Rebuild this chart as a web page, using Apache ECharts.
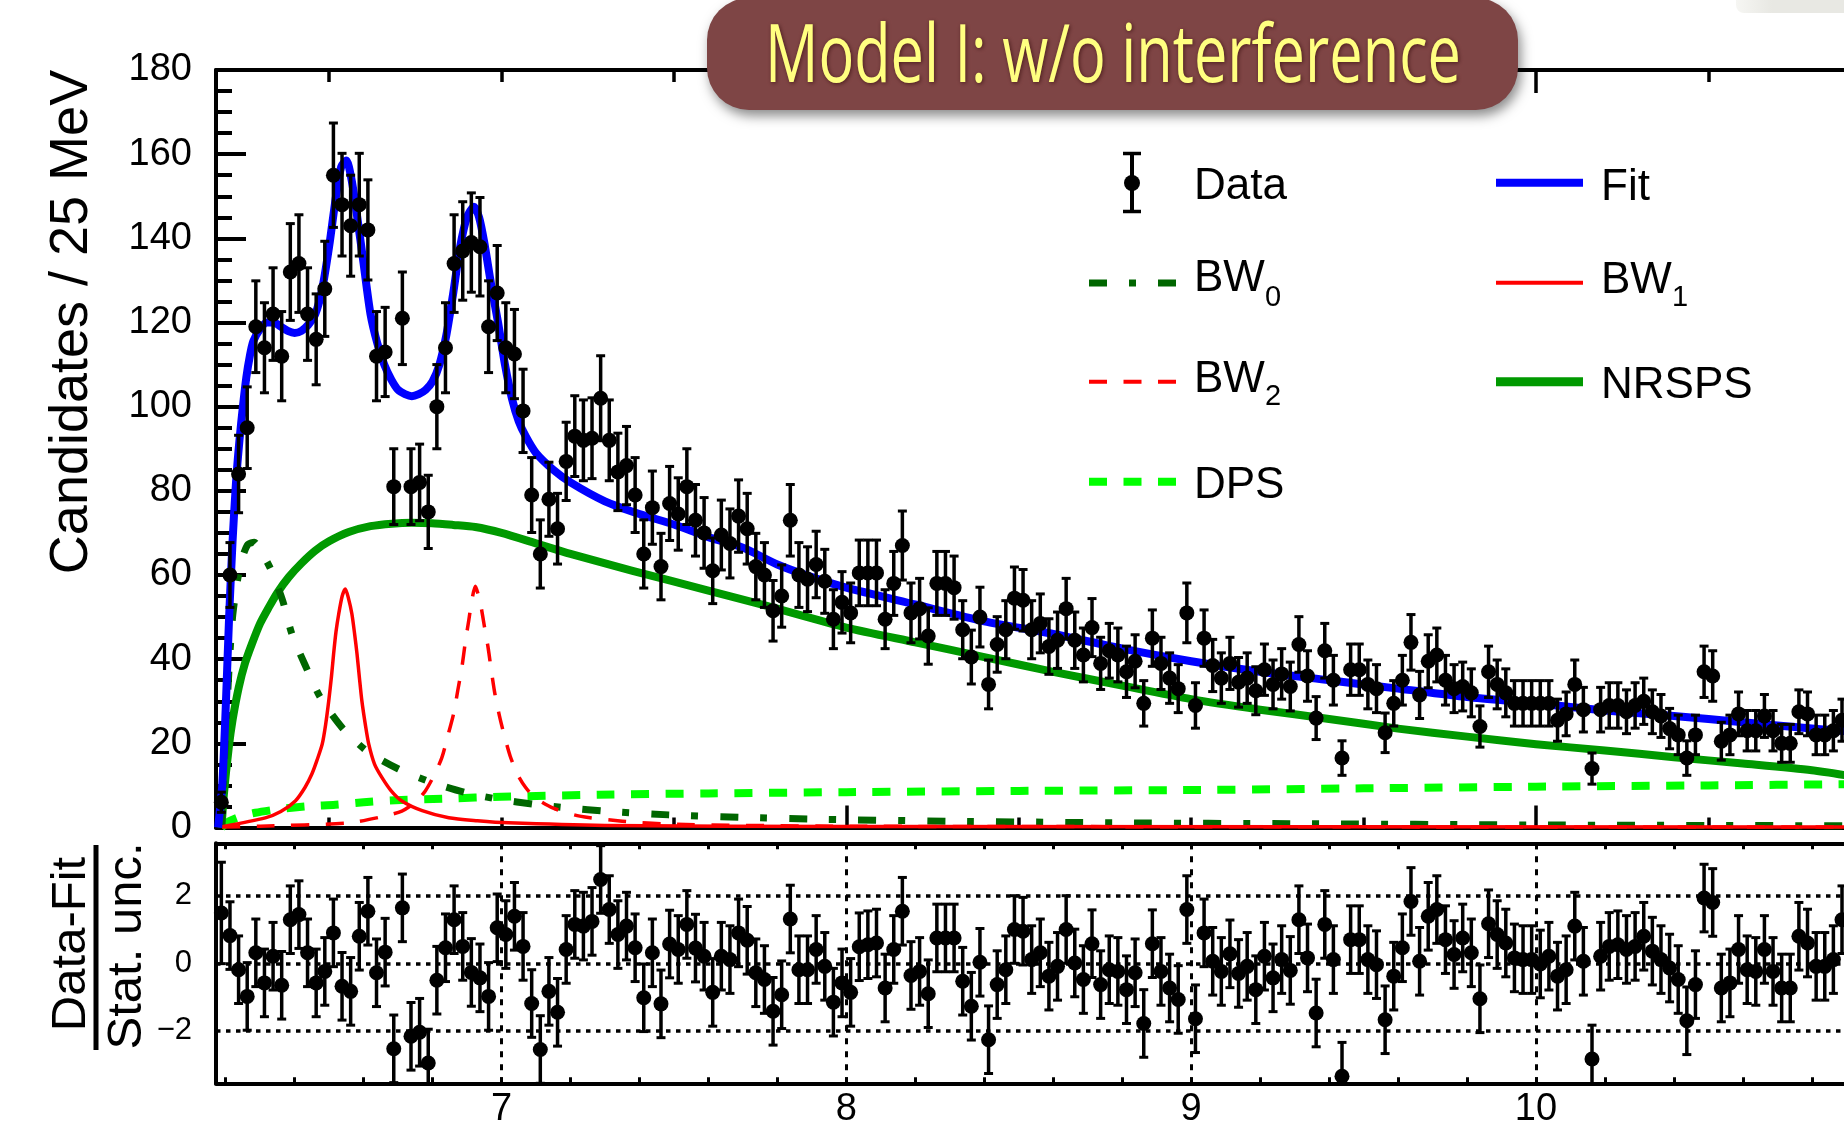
<!DOCTYPE html>
<html>
<head>
<meta charset="utf-8">
<title>Model I: w/o interference</title>
<script src="https://cdn.jsdelivr.net/npm/echarts@6.0.0/dist/echarts.min.js"></script>
<style>
html, body { margin: 0; padding: 0; background: #ffffff; }
#chart { width: 1844px; height: 1125px; }
</style>
</head>
<body>
<div id="chart"></div>
<script>
// ---------------- binning (25 MeV bins) ----------------
const binStart = 6.1875;
const binWidth = 0.025;

// ---------------- data: candidates per bin ----------------
const counts = [
 6,60,84,95,119,114,122,112,132,134,
 122,116,128,155,148,143,148,142,112,113,
 81,121,81,82,75,100,114,134,137,139,
 138,119,127,114,112.5,99,79,65,78,71,
 87,93,92,92.5,102,92,84.5,86,79,65,
 76,62,77,74.5,81,73,70,61,69.5,67.5,
 74,71,62,60,51.5,55,73,60,59,62.5,
 58.5,49.5,53.5,51,60.5,60.5,60.5,49.5,58,67,
 51,52,45.5,58,58,57,47,40.5,50,34,
 43.5,47,54.5,54,47,48.5,43,44.5,52,44.5,
 41,47.5,39,42,41,37,39.5,29.5,45,39,
 35.5,33,51,29,45,38.5,35.5,39,34.5,35.5,
 32.5,37.5,34,36.5,33.5,43.5,36,26,42,35,
 16.5,37.5,37.5,34,33,22.5,29.5,35,44,31.5,
 39.5,41,35,33,33.5,32,24,37,34,32,
 29.5,29.5,29.5,29.5,29.5,25.5,27,34,28,14,
 28,29,29,27.5,29,30,27.5,26.5,23.5,22,
 16.5,22,37,36,20.5,22,27,23,23,26.5,
 23,20,20,27.5,27,22,22,23,25.5
];
const countErrors = [
 2.4,7.7,9.2,9.7,10.9,10.7,11.0,10.6,11.5,11.6,
 11.0,10.8,11.3,12.4,12.2,12.0,12.2,11.9,10.6,10.6,
 9.0,11.0,9.0,9.1,8.7,10.0,10.7,11.6,11.7,11.8,
 11.7,10.9,11.3,10.7,10.6,9.9,8.9,8.1,8.8,8.4,
 9.3,9.6,9.6,9.6,10.1,9.6,9.2,9.3,8.9,8.1,
 8.7,7.9,8.8,8.6,9.0,8.5,8.4,7.8,8.3,8.2,
 8.6,8.4,7.9,7.7,7.2,7.4,8.5,7.7,7.7,7.9,
 7.6,7.0,7.3,7.1,7.8,7.8,7.8,7.0,7.6,8.2,
 7.1,7.2,6.7,7.6,7.6,7.5,6.9,6.4,7.1,5.8,
 6.6,6.9,7.4,7.3,6.9,7.0,6.6,6.7,7.2,6.7,
 6.4,6.9,6.2,6.5,6.4,6.1,6.3,5.4,6.7,6.2,
 6.0,5.7,7.1,5.4,6.7,6.2,6.0,6.2,5.9,6.0,
 5.7,6.1,5.8,6.0,5.8,6.6,6.0,5.1,6.5,5.9,
 4.1,6.1,6.1,5.8,5.7,4.7,5.4,5.9,6.6,5.6,
 6.3,6.4,5.9,5.7,5.8,5.7,4.9,6.1,5.8,5.7,
 5.4,5.4,5.4,5.4,5.4,5.0,5.2,5.8,5.3,3.7,
 5.3,5.4,5.4,5.2,5.4,5.5,5.2,5.1,4.8,4.7,
 4.1,4.7,6.1,6.0,4.5,4.7,5.2,4.8,4.8,5.1,
 4.8,4.5,4.5,5.2,5.2,4.7,4.7,4.8,5.0
];

// ---------------- pulls: (Data-Fit)/Stat. unc. ----------------
const pulls = [
 1.49,0.82,-0.19,-0.98,0.31,-0.58,0.21,-0.65,1.29,1.44,
 0.31,-0.58,-0.24,0.9,-0.68,-0.83,0.8,1.54,-0.28,0.33,
 -2.53,1.64,-2.16,-2.04,-2.95,-0.5,0.46,1.29,0.5,-0.27,
 -0.43,-0.98,1.05,0.85,1.39,0.5,-1.19,-2.55,-0.83,-1.45,
 0.41,1.15,1.1,1.24,2.48,1.59,0.85,1.1,0.46,-1.02,
 0.31,-1.2,0.57,0.41,1.15,0.45,0.21,-0.86,0.21,0.11,
 0.9,0.68,-0.28,-0.48,-1.42,-0.93,1.31,-0.19,-0.19,0.41,
 -0.09,-1.15,-0.58,-0.86,0.49,0.55,0.6,-0.73,0.41,1.54,
 -0.36,-0.24,-0.9,0.75,0.75,0.75,-0.53,-1.27,0.03,-2.26,
 -0.63,-0.19,1.0,0.95,0.11,0.31,-0.38,-0.09,1.0,0.01,
 -0.48,0.58,-0.63,-0.19,-0.24,-0.78,-0.28,-1.78,0.58,-0.24,
 -0.73,-1.07,1.59,-1.64,0.9,0.06,-0.24,0.28,-0.3,-0.09,
 -0.78,0.21,-0.43,0.11,-0.21,1.29,0.16,-1.47,1.15,0.11,
 -3.34,0.7,0.7,0.11,-0.04,-1.67,-0.38,0.46,1.83,0.06,
 1.39,1.59,0.7,0.26,0.75,0.31,-1.05,1.17,0.85,0.6,
 0.16,0.11,0.11,-0.02,0.21,-0.38,-0.19,1.1,0.06,-2.83,
 0.21,0.5,0.55,0.41,0.5,0.8,0.36,0.11,-0.14,-0.48,
 -1.7,-0.63,1.93,1.8,-0.73,-0.58,0.41,-0.19,-0.24,0.41,
 -0.24,-0.73,-0.73,0.8,0.6,-0.09,-0.09,0.11,1.29
];
const pullErrors = [
 1.5,1,1,1,1,1,1,1,1,1, 1,1,1,1,1,1,1,1,1,1, 1,1,1,1,1,1,1,1,1,1,
 1,1,1,1,1,1,1,1,1,1, 1,1,1,1,1,1,1,1,1,1, 1,1,1,1,1,1,1,1,1,1,
 1,1,1,1,1,1,1,1,1,1, 1,1,1,1,1,1,1,1,1,1, 1,1,1,1,1,1,1,1,1,1,
 1,1,1,1,1,1,1,1,1,1, 1,1,1,1,1,1,1,1,1,1, 1,1,1,1,1,1,1,1,1,1,
 1,1,1,1,1,1,1,1,1,1, 1,1,1,1,1,1,1,1,1,1, 1,1,1,1,1,1,1,1,1,1,
 1,1,1,1,1,1,1,1,1,1, 1,1,1,1,1,1,1,1,1,1, 1,1,1,1,1,1,1,1,1,1,
 1,1,1,1,1,1,1,1,1
];

// ---------------- fit components [mass (GeV), candidates] ----------------
const fitCurve = [[6.178,0],[6.19,10],[6.20,28],[6.21,50],[6.22,68],[6.23,82],[6.24,92],[6.25,100],[6.26,107],[6.27,112],[6.28,115.5],[6.30,118.5],[6.32,120],[6.34,120],[6.36,119],[6.38,118],[6.40,117.5],[6.42,118],[6.44,119.5],[6.46,122],[6.48,128],[6.50,138],[6.52,150],[6.535,157],[6.55,158.5],[6.565,154],[6.58,146],[6.60,134],[6.62,122],[6.64,115],[6.66,110],[6.68,106.5],[6.70,104],[6.72,103],[6.74,102.5],[6.76,103],[6.78,104],[6.80,106],[6.82,110],[6.84,117],[6.86,127],[6.88,138],[6.90,145],[6.92,147.5],[6.935,145],[6.95,139],[6.97,129],[6.99,120],[7.01,110],[7.03,102],[7.05,96.5],[7.07,93],[7.10,89],[7.15,85],[7.2,82],[7.3,77.5],[7.4,74.5],[7.5,72],[7.6,69],[7.7,66.5],[7.8,62.5],[7.9,59.5],[8.0,57],[8.2,53],[8.4,49],[8.6,46],[8.8,42.5],[9.0,39.5],[9.2,37],[9.4,35],[9.6,33],[9.8,31],[10.0,29.5],[10.2,27.8],[10.4,26.5],[10.6,25],[10.8,23.5],[10.93,22.7]];
const nrspsCurve = [[6.188,0],[6.195,8],[6.209,19],[6.22,25.5],[6.238,33.3],[6.256,39],[6.276,43.6],[6.30,48.5],[6.325,52.3],[6.35,55.8],[6.383,59.5],[6.42,62.8],[6.46,65.8],[6.50,68],[6.557,70.2],[6.62,71.6],[6.682,72.2],[6.74,72.4],[6.798,72.3],[6.86,71.9],[6.924,71.4],[7.0,70],[7.1,67.5],[7.2,65],[7.38,61],[7.6,56.3],[7.767,52.7],[8.0,47.5],[8.2,44],[8.4,40.5],[8.6,37],[8.8,33.7],[9.0,30.5],[9.2,28],[9.4,25.8],[9.6,23.5],[9.8,21.6],[10.0,19.8],[10.2,18.3],[10.4,16.7],[10.6,15.2],[10.8,13.6],[10.93,12]];
const dpsCurve = [[6.188,0],[6.21,1.5],[6.25,2.8],[6.286,3.5],[6.34,4.2],[6.392,4.7],[6.45,5.1],[6.518,5.4],[6.6,6.0],[6.692,6.5],[6.847,6.9],[7.0,7.3],[7.28,7.8],[7.6,8.1],[8.0,8.4],[8.5,8.7],[9.0,8.9],[9.5,9.3],[10.0,9.7],[10.5,10.0],[10.93,10.3]];
const bw0Curve = [[6.188,0],[6.20,22],[6.21,38],[6.22,50],[6.235,59],[6.25,64.5],[6.265,67.3],[6.283,67.8],[6.30,66],[6.33,61.5],[6.365,54],[6.392,46],[6.431,38.5],[6.474,31],[6.537,23.8],[6.609,18.2],[6.701,13.9],[6.798,10.7],[6.895,8.3],[6.992,6.7],[7.097,5.5],[7.2,4.6],[7.3,3.9],[7.485,3.0],[7.7,2.4],[7.93,1.95],[8.3,1.5],[8.8,1.1],[9.3,0.9],[10.0,0.6],[10.93,0.4]];
const bw1Curve = [[6.19,0.2],[6.315,2.3],[6.36,3.8],[6.402,6.3],[6.43,9.5],[6.45,12.7],[6.465,16],[6.48,19.8],[6.49,24.5],[6.499,30.1],[6.507,36],[6.513,41.2],[6.52,46.5],[6.528,50.8],[6.538,55],[6.547,56.7],[6.556,54.5],[6.566,50.8],[6.574,46],[6.581,41.2],[6.588,35.5],[6.595,30.1],[6.605,24.5],[6.615,19.8],[6.632,15],[6.653,11.9],[6.68,8.7],[6.711,6.3],[6.77,4],[6.847,2.3],[6.93,1.6],[7.02,1.1],[7.3,0.5],[8.0,0.25],[10.93,0.1]];
const bw2Curve = [[6.19,0.1],[6.3,0.3],[6.557,1.1],[6.65,2.5],[6.711,3.9],[6.75,6],[6.779,8.7],[6.805,12.5],[6.827,16.6],[6.845,22],[6.861,27],[6.873,32.5],[6.885,38],[6.895,44],[6.905,49.2],[6.914,54],[6.924,57.3],[6.932,55.5],[6.941,52.3],[6.951,47.5],[6.961,42.8],[6.971,37],[6.981,31.7],[6.994,26.5],[7.007,22.2],[7.025,17],[7.046,12.7],[7.07,9.5],[7.097,7.1],[7.15,4.6],[7.227,2.7],[7.35,1.5],[7.485,0.8],[8.0,0.3],[10.93,0.1]];

// ---------------- texts ----------------
const titleText = 'Model I: w/o interference';
const yTitleTop = 'Candidates / 25 MeV';
const yTitleNum = 'Data-Fit';
const yTitleDen = 'Stat. unc.';

// ---------------- layout constants ----------------
const FONT = '"Liberation Sans", Arial, Helvetica, sans-serif';
const X_MIN = 6.172, X_MAX = 10.931;
const G_LEFT = 216, G_W = 1641;
const TOP_T = 70, TOP_H = 757.5;
const BOT_T = 843.3, BOT_H = 240;

const binCenters = counts.map((_, i) => +(binStart + i * binWidth).toFixed(4));
const dataPts = counts.map((v, i) => [binCenters[i], v, countErrors[i]]);
const pullPts = pulls.map((v, i) => [binCenters[i], v, pullErrors[i]]);

function errRender(r, capHalf, lw) {
  return function (params, api) {
    const x = api.value(0), y = api.value(1), e = api.value(2);
    const c = api.coord([x, y]);
    const top = api.coord([x, y + e])[1];
    const bot = api.coord([x, y - e])[1];
    const cs = params.coordSys;
    const yTop = Math.max(top, cs.y), yBot = Math.min(bot, cs.y + cs.height);
    const st = { stroke: '#000', lineWidth: lw };
    const children = [];
    if (yBot > yTop) children.push({ type: 'line', shape: { x1: c[0], y1: yTop, x2: c[0], y2: yBot }, style: st });
    if (top >= cs.y) children.push({ type: 'line', shape: { x1: c[0] - capHalf, y1: top, x2: c[0] + capHalf, y2: top }, style: { stroke: '#000', lineWidth: 3 } });
    if (bot <= cs.y + cs.height) children.push({ type: 'line', shape: { x1: c[0] - capHalf, y1: bot, x2: c[0] + capHalf, y2: bot }, style: { stroke: '#000', lineWidth: 3 } });
    if (c[1] >= cs.y - 1 && c[1] <= cs.y + cs.height + 1) children.push({ type: 'circle', shape: { cx: c[0], cy: c[1], r: r }, style: { fill: '#000' } });
    return { type: 'group', children: children };
  };
}

function curve(name, data, color, width, dash, z) {
  return {
    name: name, type: 'line', xAxisIndex: 0, yAxisIndex: 0, data: data,
    showSymbol: false, symbol: 'none', smooth: 0.25, clip: true, z: z, silent: true,
    lineStyle: { color: color, width: width, type: dash || 'solid', cap: 'butt', join: 'round' }
  };
}

function xAx(gridIndex, position, interval, opts) {
  return Object.assign({
    type: 'value', gridIndex: gridIndex, position: position, min: X_MIN, max: X_MAX,
    minInterval: interval, maxInterval: interval, splitNumber: 10,
    axisLine: { show: true, onZero: false, lineStyle: { color: '#000', width: 4 } },
    axisTick: { show: true, inside: true, length: 10, lineStyle: { color: '#000', width: 3.5 } },
    axisLabel: { show: false },
    splitLine: { show: false }
  }, opts || {});
}

const isInt = v => Math.abs(v - Math.round(v)) < 1e-6;

// title scaling to mimic the condensed face
const mctx = document.createElement('canvas').getContext('2d');
mctx.font = '80px "Open Sans"';
const titleScaleX = 696 / mctx.measureText(titleText).width;

const chart = echarts.init(document.getElementById('chart'), null, { renderer: 'canvas' });

const legendLine = (x1, x2, y, color, w, dash) => ({
  type: 'line', z: 50, shape: { x1: x1, y1: y, x2: x2, y2: y },
  style: { stroke: color, lineWidth: w, lineDash: dash || null, lineCap: 'butt' }
});
const txt = (x, y, text, size, opts) => Object.assign({
  type: 'text', z: 50, x: x, y: y,
  style: { text: text, fontSize: size, fontFamily: FONT, fill: '#000', align: 'left', verticalAlign: 'middle' }
}, opts || {});

const C1L = 1089, C1R = 1176, C1T = 1194;
const C2L = 1496, C2R = 1583, C2T = 1601;
const gridBase = { outerBoundsMode: 'none', containLabel: false };

const option = {
  animation: false,
  backgroundColor: '#ffffff',
  grid: [
    Object.assign({ left: G_LEFT, top: TOP_T, width: G_W, height: TOP_H }, gridBase),
    Object.assign({ left: G_LEFT, top: TOP_T, width: G_W, height: TOP_H }, gridBase),
    Object.assign({ left: G_LEFT, top: BOT_T, width: G_W, height: BOT_H }, gridBase),
    Object.assign({ left: G_LEFT, top: BOT_T, width: G_W, height: BOT_H }, gridBase)
  ],
  xAxis: [
    xAx(0, 'bottom', 0.5),
    xAx(0, 'top', 0.5, { axisTick: { show: true, inside: true, length: 12, lineStyle: { color: '#000', width: 3.5 } } }),
    xAx(1, 'bottom', 2, { axisLine: { show: false }, axisTick: { show: true, inside: true, length: 22, lineStyle: { color: '#000', width: 3.5 } } }),
    xAx(1, 'top', 2, { axisLine: { show: false }, axisTick: { show: true, inside: true, length: 23, lineStyle: { color: '#000', width: 3.5 } } }),
    xAx(2, 'bottom', 0.2, { axisTick: { show: true, inside: true, length: 6, lineStyle: { color: '#000', width: 3 } } }),
    xAx(2, 'top', 0.2, { axisTick: { show: true, inside: true, length: 6, lineStyle: { color: '#000', width: 3 } } }),
    xAx(3, 'bottom', 1, {
      axisLine: { show: false }, axisTick: { show: false },
      axisLabel: { show: true, fontSize: 38, fontFamily: FONT, color: '#000', margin: 7,
        formatter: v => isInt(v) ? String(Math.round(v)) : '' },
      splitLine: { show: true, lineStyle: { color: '#000', width: 3, type: [6, 7] } }
    })
  ],
  yAxis: [
    {
      type: 'value', gridIndex: 0, min: 0, max: 180, interval: 20,
      axisLine: { show: true, lineStyle: { color: '#000', width: 4 } },
      axisTick: { show: true, inside: true, length: 30, lineStyle: { color: '#000', width: 4 } },
      minorTick: { show: true, splitNumber: 4, length: 16, lineStyle: { color: '#000', width: 4 } },
      axisLabel: { fontSize: 38, fontFamily: FONT, color: '#000', margin: 24, padding: [10, 0, 0, 0] },
      splitLine: { show: false }
    },
    { type: 'value', gridIndex: 1, min: 0, max: 180, show: false },
    {
      type: 'value', gridIndex: 2, min: -3.55, max: 3.55, minInterval: 2, maxInterval: 2,
      axisLine: { show: true, lineStyle: { color: '#000', width: 4 } },
      axisTick: { show: false },
      axisLabel: { fontSize: 31, fontFamily: FONT, color: '#000', margin: 24, padding: [8, 0, 0, 0],
        formatter: v => isInt(v) ? (v < 0 ? '\u2212' + Math.abs(Math.round(v)) : String(Math.round(v))) : '' },
      splitLine: { show: true, lineStyle: { color: '#000', width: 3.5, type: [4.5, 5.5] } }
    },
    { type: 'value', gridIndex: 3, min: -3.55, max: 3.55, show: false }
  ],
  series: [
    curve('DPS', dpsCurve, '#00ff00', 8, [18, 16.5], 2),
    curve('NRSPS', nrspsCurve, '#009900', 8, null, 3),
    curve('BW0', bw0Curve, '#006600', 7, [18, 22, 7, 22], 4),
    curve('BW1', bw1Curve, '#ff0000', 3.5, null, 5),
    curve('BW2', bw2Curve, '#ff0000', 3.5, [18, 16.5], 5),
    curve('Fit', fitCurve, '#0000ff', 8, null, 6),
    {
      name: 'Data', type: 'custom', xAxisIndex: 0, yAxisIndex: 0, z: 10, silent: true,
      data: dataPts, encode: { x: 0, y: 1 }, renderItem: errRender(7.5, 4.5, 3.5)
    },
    {
      name: 'Pull', type: 'custom', xAxisIndex: 4, yAxisIndex: 2, z: 10, silent: true,
      data: pullPts, encode: { x: 0, y: 1 }, renderItem: errRender(7.5, 4.5, 3.5)
    }
  ],
  graphic: [
    // faint artefact at top-right corner
    { type: 'rect', z: 1, shape: { x: 1736, y: -10, width: 120, height: 23, r: 8 },
      style: { fill: new echarts.graphic.LinearGradient(0, 0, 1, 0, [{ offset: 0, color: '#f6f6f3' }, { offset: 0.3, color: '#e8e8e3' }, { offset: 1, color: '#e8e8e3' }]) } },
    // title banner
    { type: 'rect', z: 100, shape: { x: 707, y: -2, width: 811, height: 112, r: 42 },
      style: { fill: '#7e4545', shadowBlur: 12, shadowColor: 'rgba(0,0,0,0.45)', shadowOffsetX: 3, shadowOffsetY: 6 } },
    { type: 'text', z: 101, x: 1113, y: 59, scaleX: titleScaleX, scaleY: 1,
      style: { text: titleText, fontSize: 80, fontFamily: '"Open Sans", "Noto Sans", sans-serif', fill: '#ffff80',
        align: 'center', verticalAlign: 'middle', textShadowColor: 'rgba(40,0,0,0.6)', textShadowBlur: 4, textShadowOffsetX: 1, textShadowOffsetY: 1 } },
    // axis titles
    txt(72, 322, yTitleTop, 54, { rotation: Math.PI / 2, style: { text: yTitleTop, fontSize: 54, fontFamily: FONT, fill: '#000', align: 'center', verticalAlign: 'middle' } }),
    txt(71, 944, yTitleNum, 49, { rotation: Math.PI / 2, style: { text: yTitleNum, fontSize: 49, fontFamily: FONT, fill: '#000', align: 'center', verticalAlign: 'middle' } }),
    { type: 'rect', z: 50, shape: { x: 93.5, y: 845, width: 5, height: 205 }, style: { fill: '#000' } },
    txt(127, 946, yTitleDen, 49, { rotation: Math.PI / 2, style: { text: yTitleDen, fontSize: 49, fontFamily: FONT, fill: '#000', align: 'center', verticalAlign: 'middle' } }),
    // legend column 1
    { type: 'line', z: 50, shape: { x1: 1132, y1: 152, x2: 1132, y2: 213 }, style: { stroke: '#000', lineWidth: 4 } },
    { type: 'line', z: 50, shape: { x1: 1123, y1: 153.5, x2: 1141, y2: 153.5 }, style: { stroke: '#000', lineWidth: 3.5 } },
    { type: 'line', z: 50, shape: { x1: 1123, y1: 211.5, x2: 1141, y2: 211.5 }, style: { stroke: '#000', lineWidth: 3.5 } },
    { type: 'circle', z: 50, shape: { cx: 1132, cy: 183, r: 8 }, style: { fill: '#000' } },
    txt(C1T, 187, 'Data', 44),
    legendLine(C1L, C1R, 283, '#006600', 7, [18, 22, 7, 22]),
    txt(C1T, 279, 'BW', 44),
    txt(C1T + 71, 298, '0', 29),
    legendLine(C1L, C1R, 381.7, '#ff0000', 4, [18, 16.5]),
    txt(C1T, 379.5, 'BW', 44),
    txt(C1T + 71, 396.5, '2', 29),
    legendLine(C1L, C1R, 481.7, '#00ff00', 8, [18, 16.5]),
    txt(C1T, 486, 'DPS', 44),
    // legend column 2
    legendLine(C2L, C2R, 182.7, '#0000ff', 8),
    txt(C2T, 188, 'Fit', 44),
    legendLine(C2L, C2R, 282.7, '#ff0000', 4),
    txt(C2T, 281, 'BW', 44),
    txt(C2T + 71, 298, '1', 29),
    legendLine(C2L, C2R, 381.7, '#009900', 9),
    txt(C2T, 386, 'NRSPS', 44)
  ]
};

chart.setOption(option);
</script>
</body>
</html>
